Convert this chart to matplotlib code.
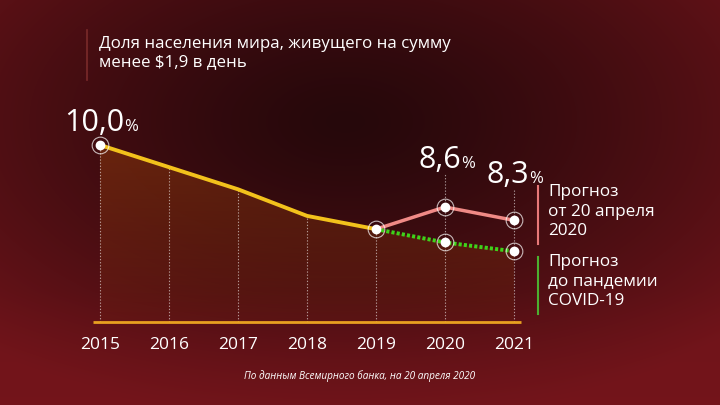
import numpy as np
import matplotlib
matplotlib.use('Agg')
import matplotlib.pyplot as plt
from matplotlib.patches import Polygon

# data
years = [2015, 2016, 2017, 2018, 2019, 2020, 2021]
actual_years = [2015, 2016, 2017, 2018, 2019]
actual = [10.0, 9.5, 9.0, 8.4, 8.1]
fc_years = [2019, 2020, 2021]
forecast_april = [8.1, 8.6, 8.3]
forecast_pre = [8.1, 7.8, 7.6]
label_years = [2015, 2020, 2021]
label_vals = [10.0, 8.6, 8.3]
label_texts = ['10,0', '8,6', '8,3']
title = 'Доля населения мира, живущего на сумму\nменее $1,9 в день'
legend_april = 'Прогноз\nот 20 апреля\n2020'
legend_pre = 'Прогноз\nдо пандемии\nCOVID-19'
source = 'По данным Всемирного банка, на 20 апреля 2020'
base_val = 6.0

plt.rcParams['font.family'] = ['Open Sans', 'DejaVu Sans']

W, H = 720, 405
fig = plt.figure(figsize=(7.2, 4.05), dpi=100)

# background gradient
bg = fig.add_axes([0, 0, 1, 1])
yy, xx = np.mgrid[0:1:H * 1j, 0:1:W * 1j]
d = np.sqrt(((xx - 0.48) / 0.75) ** 2 + ((yy - 0.3) / 0.75) ** 2)
d = np.clip(d, 0, 1)
dark = np.array([38, 8, 11]) / 255
light = np.array([112, 20, 26]) / 255
img = dark + (light - dark) * (d[..., None] ** 1.3)
bottom = np.clip((yy - 0.72) / 0.28, 0, 1)[..., None]
img = img * (1 - 0.4 * bottom) + np.array([120, 22, 28]) / 255 * 0.4 * bottom
bg.imshow(img, aspect='auto', extent=[0, 1, 1, 0])
bg.set_xlim(0, 1)
bg.set_ylim(1, 0)
bg.axis('off')

ax = fig.add_axes([0, 0, 1, 1])
ax.patch.set_alpha(0)
px_year, x0 = 69.0, 100.0
px_val, y0 = 44.3, 145.0
ax.set_xlim(2015 - x0 / px_year, 2015 + (W - x0) / px_year)
ax.set_ylim(10 - (H - y0) / px_val, 10 + y0 / px_val)
ax.axis('off')

# area under line with gradient
fx = actual_years + fc_years[1:]
fy = actual + forecast_pre[1:]
verts = [(fx[0], base_val)] + list(zip(fx, fy)) + [(fx[-1], base_val)]
poly = Polygon(verts, closed=True, facecolor='none', edgecolor='none')
ax.add_patch(poly)
grad = np.linspace(0, 1, 256)[:, None]
gcols = np.zeros((256, 1, 4))
gcols[..., 0] = 0.55
gcols[..., 1] = 0.22
gcols[..., 2] = 0.05
gcols[..., 3] = 0.55 - 0.45 * grad
gi = ax.imshow(gcols, aspect='auto', extent=[fx[0], fx[-1], base_val, max(fy)],
               origin='upper', zorder=1)
gi.set_clip_path(poly)

# vertical dotted guides
tops = list(actual) + [forecast_april[1] + 0.75, forecast_april[2] + 0.7]
ax.vlines(years, base_val, tops, colors='white', alpha=0.55, lw=0.8,
          linestyles=(0, (1.2, 1.6)), zorder=2)

# baseline
ax.hlines(base_val, 2014.9, 2021.1, colors='#e8a020', lw=2, zorder=3)

# lines
ax.plot(actual_years, actual, color='#f2c21c', lw=2.8, zorder=4, solid_capstyle='round')
ax.plot(fc_years, forecast_april, color='#f08a86', lw=2.5, zorder=4)
ax.plot(fc_years, forecast_pre, color='#3ed21a', lw=2.8, ls=(0, (0.8, 0.55)), zorder=4)

# markers
mx = [2015, 2019, 2020, 2021, 2020, 2021]
my = [actual[0], actual[-1], forecast_april[1], forecast_april[2],
      forecast_pre[1], forecast_pre[2]]
ax.plot(mx, my, 'o', ms=12, mfc='none', mec='white', mew=0.8, alpha=0.7, zorder=5)
ax.plot(mx, my, 'o', ms=6, color='white', zorder=6)

# year labels
for yr in years:
    ax.annotate(str(yr), (yr, base_val), xytext=(0, -11), textcoords='offset points',
                ha='center', va='top', color='white', fontsize=12.5)

# value labels
offsets = [(24, 14), (16, 39), (15, 37)]
for yr, v, t, (ox, oy) in zip(label_years, label_vals, label_texts, offsets):
    ax.annotate(t, (yr, v), xytext=(ox * 0.72, oy * 0.72), textcoords='offset points',
                ha='right', va='baseline', color='white', fontsize=22)
    ax.annotate('%', (yr, v), xytext=(ox * 0.72, oy * 0.72), textcoords='offset points',
                ha='left', va='baseline', color='white', fontsize=12)

# title
fig.add_artist(plt.Line2D([87 / W, 87 / W], [1 - 30 / H, 1 - 80 / H], color='#7a2a2a', lw=1.2))
fig.text(99 / W, 1 - 36 / H, title, color='white', fontsize=12.2, va='top', ha='left',
         linespacing=1.2)

# legend
fig.add_artist(plt.Line2D([538 / W, 538 / W], [1 - 186 / H, 1 - 244 / H], color='#e87878', lw=1.5))
fig.text(548 / W, 1 - 184 / H, legend_april, color='white', fontsize=12.3, va='top', ha='left',
         linespacing=1.3)
fig.add_artist(plt.Line2D([538 / W, 538 / W], [1 - 257 / H, 1 - 314 / H], color='#4cb030', lw=1.5))
fig.text(548 / W, 1 - 254 / H, legend_pre, color='white', fontsize=12.3, va='top', ha='left',
         linespacing=1.3)

# source
fig.text(0.5, 1 - 376 / H, source, color='white', fontsize=7.2, style='italic',
         ha='center', va='center')

fig.savefig('out.png', dpi=100)
